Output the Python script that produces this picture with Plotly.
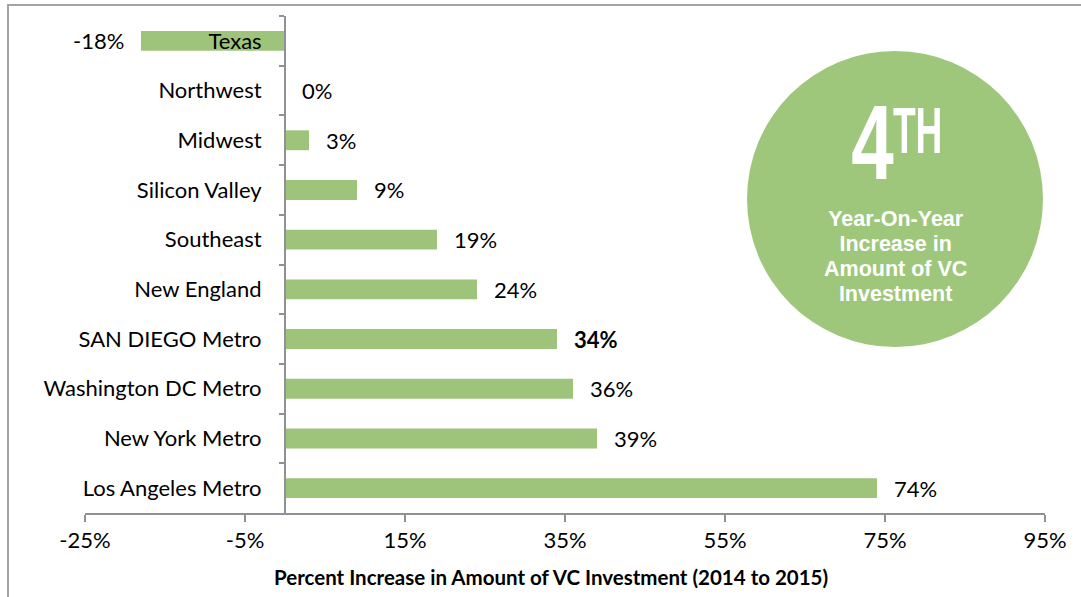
import plotly.graph_objects as go

# Regions ordered top to bottom as drawn
regions = ["Texas", "Northwest", "Midwest", "Silicon Valley", "Southeast",
           "New England", "SAN DIEGO Metro", "Washington DC Metro",
           "New York Metro", "Los Angeles Metro"]
pct_change = [-18, 0, 3, 9, 19, 24, 34, 36, 39, 74]
highlight = "SAN DIEGO Metro"

x_ticks = [-25, -5, 15, 35, 55, 75, 95]
x_tick_labels = [f"{v}%" for v in x_ticks]
x_title = "Percent Increase in Amount of VC Investment (2014 to 2015)"

badge_rank = "4"
badge_suffix = "TH"
badge_lines = ["Year-On-Year", "Increase in", "Amount of VC", "Investment"]

BAR_GREEN = "#9dc47a"
CIRCLE_GREEN = "#9ec77c"
AXIS_GREY = "#8e9196"
FONT = "Lato, 'Open Sans', sans-serif"
BIG_FONT = "'Liberation Sans', Arial, sans-serif"
BADGE_FONT = "'Liberation Sans', Arial, sans-serif"
LABEL_SIZE = 22

W, H = 1081, 597
ML, MR, MT, MB = 85, 36, 16, 84
PW, PH = W - ML - MR, H - MT - MB


def px_x(p):
    return (p - ML) / PW


def px_y(p):
    return (H - MB - p) / PH


fig = go.Figure()
fig.add_trace(go.Bar(
    x=pct_change, y=regions, orientation="h",
    marker=dict(color=BAR_GREEN, line=dict(width=0)),
    width=0.4, hoverinfo="skip",
))

# value labels beside each bar end
for name, v in zip(regions, pct_change):
    neg = v < 0
    fig.add_annotation(
        x=v, y=name, xref="x", yref="y",
        text=(f"<b>{v}%</b>" if name == highlight else f"{v}%"),
        showarrow=False,
        xanchor="right" if neg else "left",
        xshift=-15 if neg else 15,
        font=dict(family=FONT, size=LABEL_SIZE, color="#000"),
    )

# axis title
fig.add_annotation(
    x=px_x(551), y=px_y(577), xref="paper", yref="paper",
    text=f"<b>{x_title}</b>", showarrow=False,
    xanchor="center", yanchor="middle",
    font=dict(family=FONT, size=20.5, color="#000"),
)

# badge circle
fig.add_shape(
    type="circle", xref="paper", yref="paper",
    x0=px_x(747), x1=px_x(1043), y0=px_y(347), y1=px_y(51),
    fillcolor=CIRCLE_GREEN, line=dict(width=0), layer="below",
)
rank_idx = len(fig.layout.annotations)
fig.add_annotation(
    x=px_x(872), y=px_y(142), xref="paper", yref="paper",
    text=f"<b>{badge_rank}</b>", showarrow=False,
    xanchor="center", yanchor="middle",
    font=dict(family=BIG_FONT, size=106, color="white"),
)
suffix_idx = len(fig.layout.annotations)
fig.add_annotation(
    x=px_x(917), y=px_y(131), xref="paper", yref="paper",
    text=f"<b>{badge_suffix}</b>", showarrow=False,
    xanchor="center", yanchor="middle",
    font=dict(family=BIG_FONT, size=64, color="white"),
)
# caption block: tight leading (line pitch follows the 19.3px base size)
caption = "<br>".join(
    f"<span style='font-size:21.5px'><b>{line}</b></span>" for line in badge_lines
)
fig.add_annotation(
    x=px_x(895), y=px_y(256), xref="paper", yref="paper",
    text=caption, showarrow=False, align="center",
    xanchor="center", yanchor="middle",
    font=dict(family=BADGE_FONT, size=19.3, color="white"),
)

# outer frame
fig.add_shape(
    type="rect", xref="paper", yref="paper",
    x0=px_x(8), x1=px_x(1100), y0=px_y(620), y1=px_y(5),
    line=dict(color="#a3a3a3", width=2), fillcolor="rgba(0,0,0,0)",
    layer="above",
)

fig.update_layout(
    width=W, height=H,
    margin=dict(l=ML, r=MR, t=MT, b=MB),
    paper_bgcolor="white", plot_bgcolor="white",
    showlegend=False,
    font=dict(family=FONT, size=LABEL_SIZE, color="#000"),
    xaxis=dict(
        range=[-25, 95], tickvals=x_ticks, ticktext=x_tick_labels,
        showgrid=False, zeroline=False,
        showline=True, linecolor=AXIS_GREY, linewidth=2,
        ticks="outside", ticklen=7, tickwidth=2, tickcolor=AXIS_GREY,
        tickfont=dict(family=FONT, size=LABEL_SIZE, color="#000"),
        fixedrange=True,
    ),
    yaxis=dict(
        categoryorder="array", categoryarray=regions, autorange="reversed",
        anchor="free", position=25 / 120,
        showgrid=False, zeroline=False,
        showline=True, linecolor=AXIS_GREY, linewidth=2,
        ticks="outside", ticklen=5, tickwidth=2, tickcolor=AXIS_GREY,
        tickson="boundaries", ticklabelstandoff=18,
        tickfont=dict(family=FONT, size=LABEL_SIZE, color="#000"),
        fixedrange=True,
    ),
)

# condensed look for the big ordinal in the badge
condense_css = (
    f'.annotation[data-index="{rank_idx}"] text.annotation-text'
    "{transform-box:fill-box;transform-origin:center;transform:scaleX(0.72);}"
    f'.annotation[data-index="{suffix_idx}"] text.annotation-text'
    "{transform-box:fill-box;transform-origin:center;transform:scaleX(0.58);}"
)
post = (
    "var st=document.createElement('style');"
    f"st.textContent={condense_css!r};"
    "document.head.appendChild(st);"
)

fig.write_html("out.html", post_script=post)
